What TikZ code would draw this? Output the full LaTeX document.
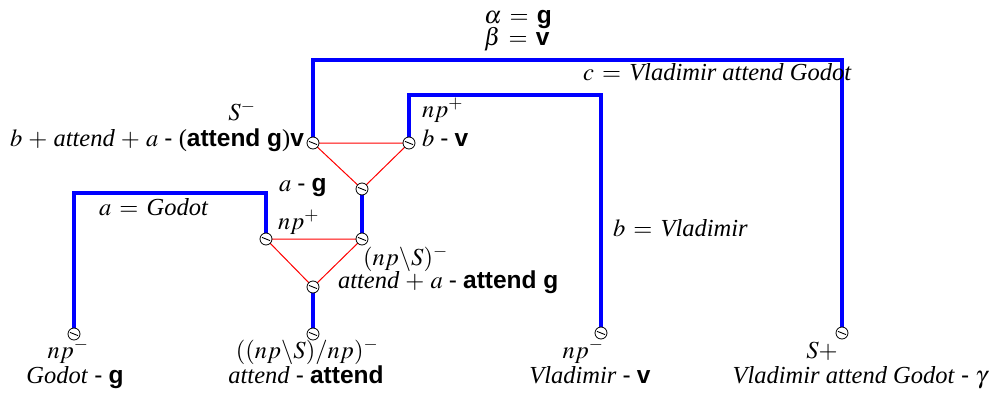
\documentclass[tikz,border=0pt]{standalone}
\usepackage{mathptmx}
\usepackage{fontspec}
\setmainfont{Liberation Serif}
\setsansfont{Liberation Sans}
\usetikzlibrary{backgrounds}
\newcommand{\bsf}[1]{\textsf{\bfseries #1}}
\newcommand{\dsh}{\textsf{-}}
\medmuskip=4.5mu plus 2mu minus 2mu
\thickmuskip=6mu plus 3mu
\tikzset{
  port/.style={circle, draw, line width=0.8pt, fill=white, minimum size=12pt, inner sep=0pt,
    path picture={\draw[line width=0.9pt] (path picture bounding box.center) ++(-4pt,1.6pt) -- ++(8pt,-3.2pt);}},
  wire/.style={draw=blue, line width=4.5pt},
  link/.style={draw=red, line width=1pt},
  lbl/.style={inner sep=0pt, outer sep=0pt}
}
\begin{document}
\begin{tikzpicture}[x=1pt, y=-1pt, font=\fontsize{24.5}{24}\selectfont]
\useasboundingbox (0,0) rectangle (1005,394);
% ports
\node[port] (g)  at (74,334) {};
\node[port] (at) at (313,334) {};
\node[port] (v)  at (601,333) {};
\node[port] (s)  at (842,333) {};
\node[port] (ul) at (313,143) {};
\node[port] (ur) at (409,143) {};
\node[port] (ub) at (362,189) {};
\node[port] (ll) at (266,239) {};
\node[port] (lr) at (362,239) {};
\node[port] (lb) at (313,287) {};
\begin{scope}[on background layer]
  \draw[wire] (g.center) -- (g.center |- 0,193) -| (ll.center);
  \draw[wire] (ul.center) -- (ul.center |- 0,60) -| (s.center);
  \draw[wire] (ur.center) -- (ur.center |- 0,95) -| (v.center);
  \draw[wire] (at.center) -- (lb.center);
  \draw[wire] (lr.center) -- (ub.center);
  \draw[link] (ul.center) -- (ur.center) -- (ub.center) -- cycle;
  \draw[link] (ll.center) -- (lr.center) -- (lb.center) -- cycle;
\end{scope}
% labels
\node[lbl, anchor=base west] (t1) at (484,23) {$\alpha = \bsf{g}$};
\node[lbl, anchor=base west] (t2) at (484,45) {$\beta = \bsf{v}$};
\node[lbl, anchor=base west] (t3) at (583,80) {$c = \textit{Vladimir attend Godot}$};
\node[lbl, anchor=base west] (t4) at (422,117) {$np^{+}$};
\node[lbl, anchor=base west] (t5) at (422,146) {$b$ \dsh{} \bsf{v}};
\node[lbl, anchor=base] (t6) at (242,120) {$S^{-}$};
\node[lbl, anchor=base east] (t7) at (304,146) {$b + \textit{attend} + a$ \dsh{} (\bsf{attend g})\bsf{v}};
\node[lbl, anchor=base west] (t8) at (279,191) {$a$ \dsh{} \bsf{g}};
\node[lbl, anchor=base west] (t9) at (99,215) {$a = \textit{Godot}$};
\node[lbl, anchor=base west] (t10) at (278,229) {$np^{+}$};
\node[lbl, anchor=base west] (t11) at (363,265) {$(np\backslash S)^{-}$};
\node[lbl, anchor=base west] (t12) at (338,288) {$\textit{attend} + a$ \dsh{} \bsf{attend g}};
\node[lbl, anchor=base west] (t13) at (613,236) {$b = \textit{Vladimir}$};
\node[lbl, anchor=base] (t14) at (68,358) {$np^{-}$};
\node[lbl, anchor=base] (t15) at (75,383) {\textit{Godot} \dsh{} \bsf{g}};
\node[lbl, anchor=base] (t16) at (307,358) {$((np\backslash S)/np)^{-}$};
\node[lbl, anchor=base] (t17) at (306,383) {\textit{attend} \dsh{} \bsf{attend}};
\node[lbl, anchor=base] (t18) at (583,358) {$np^{-}$};
\node[lbl, anchor=base] (t19) at (590,383) {\textit{Vladimir} \dsh{} \bsf{v}};
\node[lbl, anchor=base] (t20) at (822,358) {$S{+}$};
\node[lbl, anchor=base] (t21) at (860,383) {\textit{Vladimir attend Godot} \dsh{} $\gamma$};
\end{tikzpicture}
\end{document}
